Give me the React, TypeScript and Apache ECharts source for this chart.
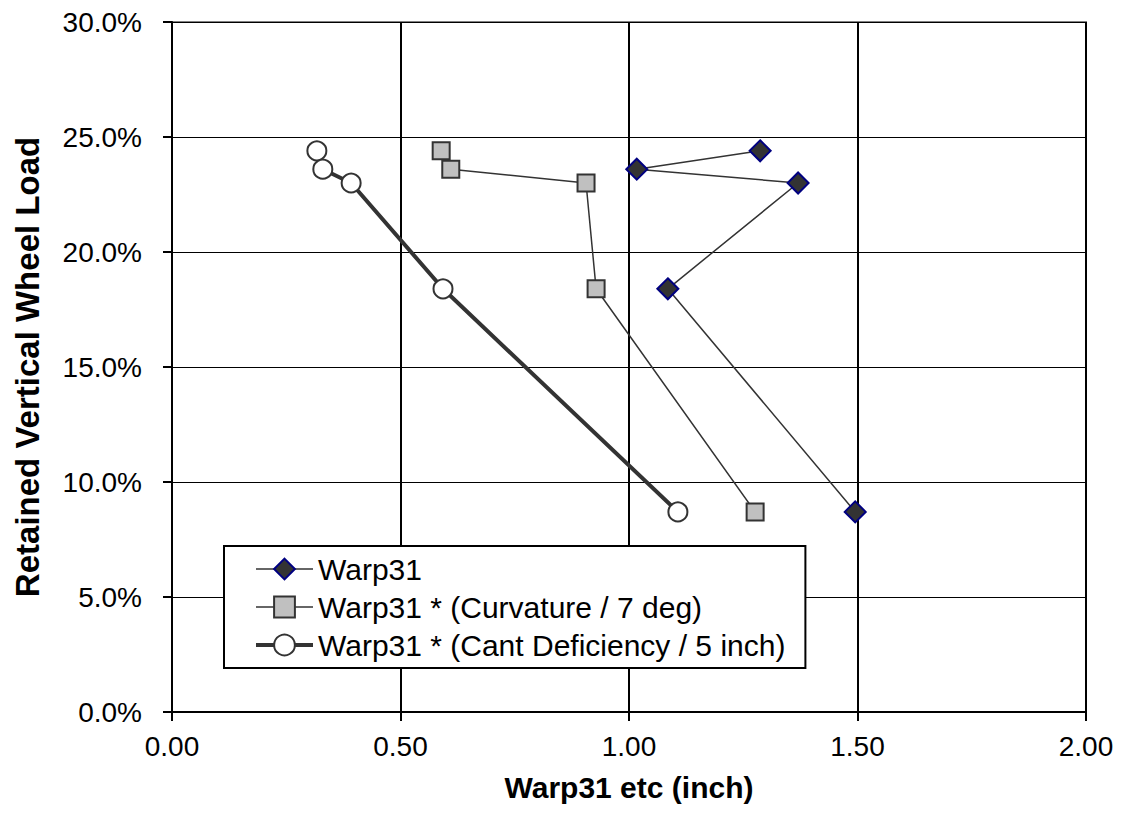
import React, { useEffect, useRef } from "react";
import * as echarts from "echarts";

const yValues = [24.4, 23.6, 23.0, 18.4, 8.7];
const warp31X = [1.287, 1.017, 1.37, 1.085, 1.495];
const curvatureX = [0.589, 0.61, 0.906, 0.928, 1.276];
const cantX = [0.317, 0.33, 0.392, 0.593, 1.107];
const seriesNames = [
  "Warp31",
  "Warp31 * (Curvature / 7 deg)",
  "Warp31 * (Cant Deficiency / 5 inch)",
];

const FONT = "Arial, 'Liberation Sans', sans-serif";

export default function App() {
  const ref = useRef<HTMLDivElement>(null);
  useEffect(() => {
    if (!ref.current) return;
    const chart = echarts.init(ref.current, null, { renderer: "svg" });
    const pair = (xs: number[]) => xs.map((x, i) => [x, yValues[i]]);
    const legendWidths = [1.5, 1.5, 4];
    chart.setOption({
      animation: false,
      backgroundColor: "#ffffff",
      textStyle: { fontFamily: FONT },
      grid: {
        left: 172,
        top: 22,
        right: 36,
        bottom: 109,
        show: true,
        borderColor: "#808080",
        borderWidth: 2,
        backgroundColor: "transparent",
      },
      legend: {
        left: 224,
        top: 546,
        orient: "vertical",
        backgroundColor: "#ffffff",
        borderColor: "#000000",
        borderWidth: 2,
        borderRadius: 0,
        padding: [8, 20, 8, 30],
        itemWidth: 57,
        itemHeight: 26,
        itemGap: 8,
        textStyle: { fontFamily: FONT, fontSize: 30, color: "#000" },
        data: seriesNames.map((n, i) => ({
          name: n,
          lineStyle: { width: legendWidths[i], color: "#333333" },
        })),
      },
      xAxis: {
        type: "value",
        min: 0,
        max: 2,
        interval: 0.5,
        name: "Warp31 etc (inch)",
        nameLocation: "middle",
        nameGap: 60,
        nameTextStyle: { fontFamily: FONT, fontSize: 30, fontWeight: "bold", color: "#000" },
        axisLine: { show: true, onZero: false, lineStyle: { color: "#000", width: 2 } },
        axisTick: { show: true, length: 9, lineStyle: { color: "#000", width: 2 } },
        axisLabel: {
          fontFamily: FONT,
          fontSize: 28,
          color: "#000",
          margin: 20,
          formatter: (v: number) => v.toFixed(2),
        },
        splitLine: { show: true, lineStyle: { color: "#000", width: 2 } },
      },
      yAxis: {
        type: "value",
        min: 0,
        max: 30,
        interval: 5,
        name: "Retained Vertical Wheel Load",
        nameLocation: "middle",
        nameGap: 128,
        nameTextStyle: { fontFamily: FONT, fontSize: 33, fontWeight: "bold", color: "#000" },
        axisLine: { show: true, onZero: false, lineStyle: { color: "#000", width: 2 } },
        axisTick: { show: true, length: 9, lineStyle: { color: "#000", width: 2 } },
        axisLabel: {
          fontFamily: FONT,
          fontSize: 28,
          color: "#000",
          margin: 30,
          formatter: (v: number) => v.toFixed(1) + "%",
        },
        splitLine: { show: true, lineStyle: { color: "#000", width: 1 } },
      },
      series: [
        {
          name: seriesNames[0],
          type: "line",
          data: pair(warp31X),
          symbol: "diamond",
          symbolSize: 21,
          lineStyle: { color: "#333333", width: 1.5 },
          itemStyle: { color: "#333333", borderColor: "#000080", borderWidth: 2 },
          z: 5,
        },
        {
          name: seriesNames[1],
          type: "line",
          data: pair(curvatureX),
          symbol: "rect",
          symbolSize: 17,
          lineStyle: { color: "#333333", width: 1.5 },
          itemStyle: { color: "#c0c0c0", borderColor: "#333333", borderWidth: 2 },
          z: 5,
        },
        {
          name: seriesNames[2],
          type: "line",
          data: pair(cantX),
          symbol: "circle",
          symbolSize: 19,
          lineStyle: { color: "#333333", width: 4 },
          itemStyle: { color: "#ffffff", borderColor: "#333333", borderWidth: 2 },
          z: 5,
        },
      ],
    });
    return () => chart.dispose();
  }, []);
  return (
    <div
      ref={ref}
      style={{ position: "fixed", left: 0, top: 0, width: 1122, height: 821 }}
    />
  );
}
